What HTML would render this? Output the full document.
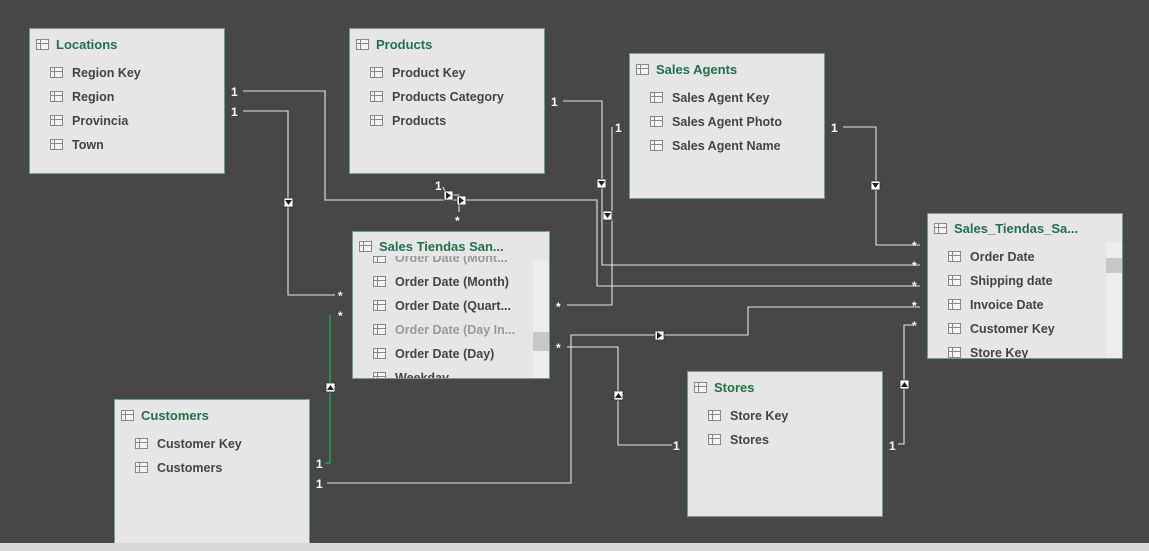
<!DOCTYPE html>
<html><head><meta charset="utf-8"><style>
body{margin:0;width:1149px;height:551px;background:#474747;position:relative;overflow:hidden;font-family:"Liberation Sans",sans-serif}
.t{position:absolute;background:#e6e6e6;border:1px solid #6f9f86;box-sizing:border-box}
.h{position:absolute;left:6px;top:8px;color:#21714a;font-weight:bold;font-size:13px;white-space:nowrap}
.f{position:absolute;left:20px;color:#444;font-weight:bold;font-size:12.5px;white-space:nowrap}
.ic{display:inline-block;width:11px;height:9px;border:1px solid #888;margin-right:9px;vertical-align:-1px;background:linear-gradient(#888,#888) 0 3px/100% 1px no-repeat,linear-gradient(#888,#888) 3px 0/1px 100% no-repeat,#f4f4f4}
.h .ic{margin-right:7px}
.lb{position:absolute;color:#fff;font-size:12px;font-weight:bold}
.sb{position:absolute;width:16px;background:#ededed}
</style></head><body>
<svg width="1149" height="551" style="position:absolute;left:0;top:0" fill="none" stroke="#e6e6e6" stroke-width="1.1">
<path d="M243 91H325V200H597V286H920"/>
<path d="M243 111H288V295H335"/>
<path d="M563 101H602V265H920"/>
<path d="M612 127V305H567"/>
<path d="M843 127H876V245H920"/>
<path d="M443 187Q446 195 452 195H459V212"/>
<path d="M459 200H597"/>
<path d="M330 315V463H325" stroke="#2e8a55" stroke-width="2"/>
<path d="M327 483H571V335H748V307H920"/>
<path d="M567 347H618V445H672"/>
<path d="M898 444H904V325H913"/>
<g fill="#fff" stroke="#333" stroke-width="0.8">
<rect x="284" y="198" width="9" height="9"/><rect x="597" y="179" width="9" height="9"/><rect x="603" y="211" width="9" height="9"/><rect x="871" y="181" width="9" height="9"/><rect x="444" y="191" width="9" height="9"/><rect x="457" y="196" width="9" height="9"/><rect x="326" y="383" width="9" height="9"/><rect x="655" y="331" width="9" height="9"/><rect x="614" y="391" width="9" height="9"/><rect x="900" y="380" width="9" height="9"/></g>
<g fill="#222" stroke="none">
<path d="M285 200h7l-3.5 5z"/><path d="M598 181h7l-3.5 5z"/><path d="M604 213h7l-3.5 5z"/><path d="M872 183h7l-3.5 5z"/>
<path d="M446 192v7l5-3.5z"/><path d="M459 197v7l5-3.5z"/><path d="M657 332v7l5-3.5z"/>
<path d="M327 390h7l-3.5-5z"/><path d="M615 398h7l-3.5-5z"/><path d="M901 387h7l-3.5-5z"/></g>
</svg>
<div class="lb" style="left:231px;top:85px">1</div><div class="lb" style="left:231px;top:105px">1</div>
<div class="lb" style="left:551px;top:95px">1</div><div class="lb" style="left:615px;top:121px">1</div>
<div class="lb" style="left:831px;top:121px">1</div><div class="lb" style="left:435px;top:179px">1</div>
<div class="lb" style="left:455px;top:214px">*</div>
<div class="lb" style="left:338px;top:289px">*</div><div class="lb" style="left:338px;top:309px">*</div>
<div class="lb" style="left:556px;top:300px">*</div><div class="lb" style="left:556px;top:341px">*</div>
<div class="lb" style="left:912px;top:239px">*</div><div class="lb" style="left:912px;top:259px">*</div><div class="lb" style="left:912px;top:279px">*</div><div class="lb" style="left:912px;top:299px">*</div><div class="lb" style="left:912px;top:319px">*</div>
<div class="lb" style="left:316px;top:457px">1</div><div class="lb" style="left:316px;top:477px">1</div>
<div class="lb" style="left:673px;top:439px">1</div><div class="lb" style="left:889px;top:439px">1</div>

<div class="t" style="left:29px;top:28px;width:196px;height:146px"><div class="h"><span class="ic"></span>Locations</div>
<div class="f" style="top:37px"><span class="ic"></span>Region Key</div><div class="f" style="top:61px"><span class="ic"></span>Region</div><div class="f" style="top:85px"><span class="ic"></span>Provincia</div><div class="f" style="top:109px"><span class="ic"></span>Town</div></div>
<div class="t" style="left:349px;top:28px;width:196px;height:146px"><div class="h"><span class="ic"></span>Products</div>
<div class="f" style="top:37px"><span class="ic"></span>Product Key</div><div class="f" style="top:61px"><span class="ic"></span>Products Category</div><div class="f" style="top:85px"><span class="ic"></span>Products</div></div>
<div class="t" style="left:629px;top:53px;width:196px;height:146px"><div class="h"><span class="ic"></span>Sales Agents</div>
<div class="f" style="top:37px"><span class="ic"></span>Sales Agent Key</div><div class="f" style="top:61px"><span class="ic"></span>Sales Agent Photo</div><div class="f" style="top:85px"><span class="ic"></span>Sales Agent Name</div></div>
<div class="t" style="left:352px;top:231px;width:198px;height:148px;overflow:hidden"><div class="h" style="top:7px"><span class="ic"></span>Sales Tiendas San...</div>
<div class="f" style="top:19px;color:#999;clip-path:inset(5px 0 0 0)"><span class="ic"></span>Order Date (Mont...</div>
<div class="f" style="top:43px"><span class="ic"></span>Order Date (Month)</div><div class="f" style="top:67px"><span class="ic"></span>Order Date (Quart...</div><div class="f" style="top:91px;color:#999"><span class="ic"></span>Order Date (Day In...</div><div class="f" style="top:115px"><span class="ic"></span>Order Date (Day)</div><div class="f" style="top:139px"><span class="ic"></span>Weekday</div>
<div class="sb" style="left:180px;top:28px;height:118px"></div><div style="position:absolute;left:180px;top:100px;width:16px;height:19px;background:#c8c8c8"></div></div>
<div class="t" style="left:927px;top:213px;width:196px;height:146px;overflow:hidden"><div class="h" style="top:7px"><span class="ic"></span>Sales_Tiendas_Sa...</div>
<div class="f" style="top:36px"><span class="ic"></span>Order Date</div><div class="f" style="top:60px"><span class="ic"></span>Shipping date</div><div class="f" style="top:84px"><span class="ic"></span>Invoice Date</div><div class="f" style="top:108px"><span class="ic"></span>Customer Key</div><div class="f" style="top:132px"><span class="ic"></span>Store Key</div>
<div class="sb" style="left:178px;top:28px;height:116px"></div><div style="position:absolute;left:178px;top:44px;width:16px;height:15px;background:#c8c8c8"></div></div>
<div class="t" style="left:114px;top:399px;width:196px;height:150px"><div class="h"><span class="ic"></span>Customers</div>
<div class="f" style="top:37px"><span class="ic"></span>Customer Key</div><div class="f" style="top:61px"><span class="ic"></span>Customers</div></div>
<div class="t" style="left:687px;top:371px;width:196px;height:146px"><div class="h"><span class="ic"></span>Stores</div>
<div class="f" style="top:37px"><span class="ic"></span>Store Key</div><div class="f" style="top:61px"><span class="ic"></span>Stores</div></div>
<div style="position:absolute;left:0;top:543px;width:1149px;height:8px;background:#d9d9d9"></div>
</body></html>
